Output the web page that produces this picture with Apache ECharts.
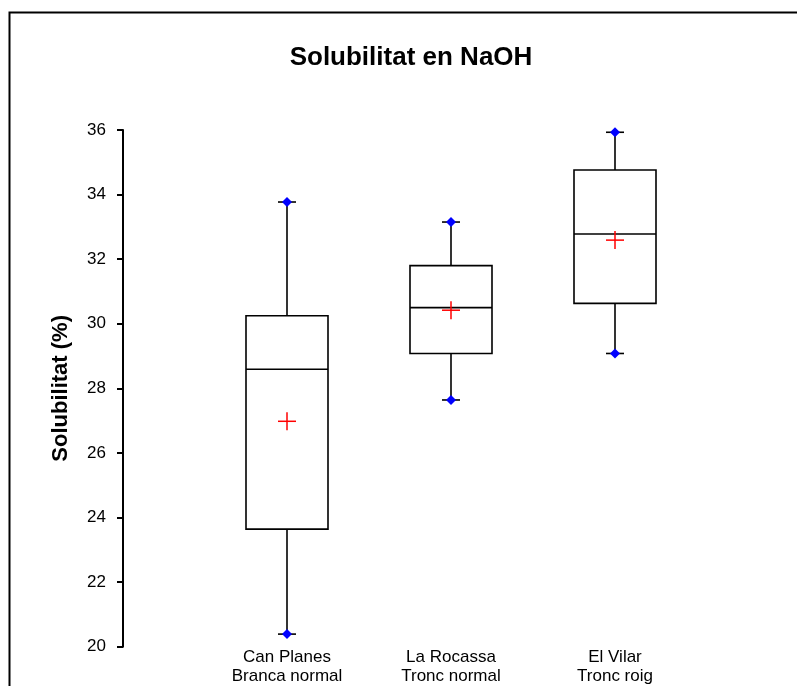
<!DOCTYPE html>
<html>
<head>
<meta charset="utf-8">
<style>
  html, body { margin: 0; padding: 0; background: #fff; }
  #chart { width: 797px; height: 686px; }
</style>
<script src="https://cdn.jsdelivr.net/npm/echarts@6/dist/echarts.min.js"></script>
</head>
<body>
<div id="chart"></div>
<script>
const titleText = 'Solubilitat en NaOH';
const yAxisName = 'Solubilitat (%)';
const categories = ['Can Planes\nBranca normal', 'La Rocassa\nTronc normal', 'El Vilar\nTronc roig'];
const minValues = [20.39, 27.64, 29.08];
const q1Values = [23.64, 29.08, 30.63];
const medianValues = [28.59, 30.50, 32.78];
const q3Values = [30.25, 31.80, 34.76];
const maxValues = [33.77, 33.15, 35.93];
const meanValues = [26.98, 30.42, 32.59];
const yMin = 20, yMax = 36, yStep = 2;

const FONT = "'Liberation Sans', Arial, sans-serif";
const xData = [''].concat(categories, ['']);
const boxData = categories.map((c, i) => [i + 1, minValues[i], q1Values[i], medianValues[i], q3Values[i], maxValues[i], meanValues[i]]);

const chart = echarts.init(document.getElementById('chart'), null, { renderer: 'canvas' });

function renderBox(params, api) {
  const idx = api.value(0);
  const pMin = api.coord([idx, api.value(1)]);
  const pQ1 = api.coord([idx, api.value(2)]);
  const pMed = api.coord([idx, api.value(3)]);
  const pQ3 = api.coord([idx, api.value(4)]);
  const pMax = api.coord([idx, api.value(5)]);
  const pMean = api.coord([idx, api.value(6)]);
  const x = pMed[0];
  const half = 41;
  const cap = 9;
  const ls = { stroke: '#000', lineWidth: 1.6 };
  const children = [
    { type: 'line', shape: { x1: x, y1: pQ3[1], x2: x, y2: pMax[1] }, style: ls },
    { type: 'line', shape: { x1: x, y1: pQ1[1], x2: x, y2: pMin[1] }, style: ls },
    { type: 'line', shape: { x1: x - cap, y1: pMax[1], x2: x + cap, y2: pMax[1] }, style: ls },
    { type: 'line', shape: { x1: x - cap, y1: pMin[1], x2: x + cap, y2: pMin[1] }, style: ls },
    { type: 'rect', shape: { x: x - half, y: pQ3[1], width: half * 2, height: pQ1[1] - pQ3[1] }, style: { fill: 'none', stroke: '#000', lineWidth: 1.6 } },
    { type: 'line', shape: { x1: x - half, y1: pMed[1], x2: x + half, y2: pMed[1] }, style: ls },
    { type: 'polygon', shape: { points: [[x, pMax[1] - 5], [x + 5, pMax[1]], [x, pMax[1] + 5], [x - 5, pMax[1]]] }, style: { fill: '#0000ff' } },
    { type: 'polygon', shape: { points: [[x, pMin[1] - 5], [x + 5, pMin[1]], [x, pMin[1] + 5], [x - 5, pMin[1]]] }, style: { fill: '#0000ff' } },
    { type: 'line', shape: { x1: pMean[0] - 9, y1: pMean[1], x2: pMean[0] + 9, y2: pMean[1] }, style: { stroke: '#ff0000', lineWidth: 1.5 } },
    { type: 'line', shape: { x1: pMean[0], y1: pMean[1] - 9, x2: pMean[0], y2: pMean[1] + 9 }, style: { stroke: '#ff0000', lineWidth: 1.5 } }
  ];
  return { type: 'group', children };
}

chart.setOption({
  animation: false,
  backgroundColor: '#fff',
  graphic: [
    { type: 'rect', shape: { x: 9.5, y: 12.5, width: 900, height: 900 }, style: { fill: 'none', stroke: '#000', lineWidth: 2 }, silent: true }
  ],
  title: {
    text: titleText,
    left: 406, top: 40,
    textAlign: 'center',
    textStyle: { fontFamily: FONT, fontSize: 26, fontWeight: 'bold', color: '#000' }
  },
  grid: { left: 123, right: 18, top: 130, bottom: 39.3, containLabel: false },
  xAxis: {
    type: 'category',
    data: xData,
    boundaryGap: false,
    axisLine: { show: false },
    axisTick: { show: false },
    splitLine: { show: false },
    axisLabel: { interval: 0, margin: 1, fontFamily: FONT, fontSize: 17, color: '#000', lineHeight: 19 }
  },
  yAxis: {
    type: 'value',
    min: yMin, max: yMax, interval: yStep,
    name: yAxisName,
    nameLocation: 'middle',
    nameGap: 51,
    nameRotate: 90,
    nameTextStyle: { fontFamily: FONT, fontSize: 22, fontWeight: 'bold', color: '#000' },
    axisLine: { show: true, lineStyle: { color: '#000', width: 2 } },
    axisTick: { show: true, inside: false, length: 6, lineStyle: { color: '#000', width: 2 } },
    splitLine: { show: false },
    axisLabel: { margin: 17, fontFamily: FONT, fontSize: 17, color: '#000' }
  },
  series: [{
    type: 'custom',
    renderItem: renderBox,
    encode: { x: 0, y: [1, 2, 3, 4, 5, 6] },
    data: boxData,
    clip: false
  }]
});
</script>
</body>
</html>
